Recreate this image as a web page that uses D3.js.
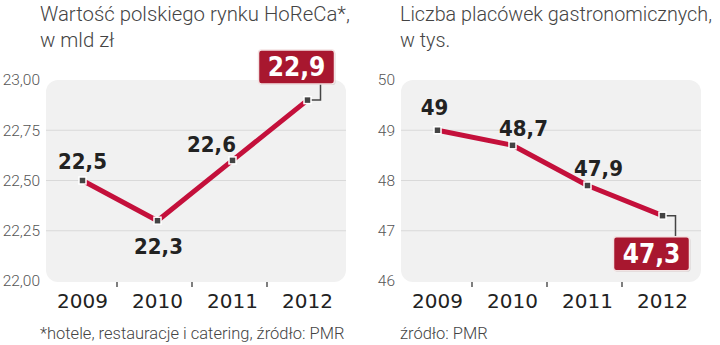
<!DOCTYPE html>
<html><head><meta charset="utf-8">
<script src="https://cdn.jsdelivr.net/npm/d3@7"></script>
<style>
html,body{margin:0;padding:0;background:#fff;}
svg{display:block;}
</style></head>
<body>
<svg id="c" width="720" height="345"></svg>
<script>
// ---- data ----
const years = ["2009", "2010", "2011", "2012"];
const horecaValues = [22.5, 22.3, 22.6, 22.9];
const outletValues = [49, 48.7, 47.9, 47.3];
const horecaTicks = [22.00, 22.25, 22.50, 22.75, 23.00];
const outletTicks = [46, 47, 48, 49, 50];
const horecaTitle = ["Wartość polskiego rynku HoReCa*,", "w mld zł"];
const outletTitle = ["Liczba placówek gastronomicznych,", "w tys."];
const horecaNote = "*hotele, restauracje i catering, źródło: PMR";
const outletNote = "źródło: PMR";

// ---- layout / style ----
const RED = "#c4103b", BOX = "#a8172f", DARK = "#222", GREY = "#555";
const svg = d3.select("#c");
const fmtComma = v => String(v).replace(".", ",");

function panel(opt) {
  const g = svg.append("g");
  const x = d3.scaleBand().domain(years).range(opt.xr);
  const y = d3.scaleLinear().domain(opt.domain).range([281, 80]);
  const cx = d => x(d) + x.bandwidth() / 2;

  // background
  g.append("rect").attr("x", opt.xr[0] + 1).attr("y", 80)
    .attr("width", opt.xr[1] - opt.xr[0]).attr("height", 202)
    .attr("rx", 12).attr("fill", "#f1f1f1");
  // gridlines
  g.selectAll(".grid").data(opt.ticks.slice(1, -1)).enter().append("line")
    .attr("x1", opt.xr[0] + 1).attr("x2", opt.xr[1] + 1)
    .attr("y1", d => y(d)).attr("y2", d => y(d))
    .attr("stroke", "#d9d9d9").attr("stroke-width", 1);
  // y labels
  g.selectAll(".yl").data(opt.ticks).enter().append("text")
    .attr("x", opt.ylx).attr("y", d => y(d)).attr("dy", "0.35em")
    .attr("text-anchor", "end").attr("font-family", "Roboto").attr("font-weight", 300)
    .attr("font-size", 15.5).attr("fill", GREY).text(opt.tfmt);
  // x axis ticks at band boundaries
  g.selectAll(".xt").data(years.slice(1)).enter().append("line")
    .attr("x1", d => x(d) - 3).attr("x2", d => x(d) - 3)
    .attr("y1", 282).attr("y2", 287).attr("stroke", GREY).attr("stroke-width", 1.5);
  g.selectAll(".xl").data(years).enter().append("text")
    .attr("x", d => cx(d)).attr("y", 308).attr("text-anchor", "middle")
    .attr("font-family", "DejaVu Sans").attr("font-size", 20).attr("fill", DARK).text(d => d);
  // title: font size chosen so the first line fits the target width
  const tl = g.selectAll(".ti").data(opt.title).enter().append("text")
    .attr("x", opt.tx).attr("y", (d, i) => 21 + i * 26)
    .attr("font-family", "Roboto").attr("font-weight", 300).attr("font-size", 22)
    .attr("fill", "#444").text(d => d);
  const w0 = tl.nodes()[0].getComputedTextLength();
  const r = Math.min(1, opt.titleW / w0);
  tl.attr("font-size", 22 * r);
  // footnote
  g.append("text").attr("x", opt.tx).attr("y", 339)
    .attr("font-family", "Roboto").attr("font-weight", 300).attr("font-size", 16.5)
    .attr("fill", "#444").text(opt.note);

  const pts = years.map((yr, i) => [cx(yr), y(opt.values[i])]);
  // line
  g.append("path").datum(opt.values)
    .attr("d", d3.line().x((d, i) => cx(years[i])).y(d => y(d)))
    .attr("fill", "none").attr("stroke", RED).attr("stroke-width", 5).attr("stroke-linejoin", "round");
  // connector for last
  const last = pts[pts.length - 1];
  const bx = last[0] - 11, bw = 76, bh = 34;
  const by = opt.boxAbove ? last[1] - 50 : last[1] + 21;
  g.append("path")
    .attr("d", `M${last[0]},${last[1]}H${last[0] + 13}V${opt.boxAbove ? by + bh : by}`)
    .attr("fill", "none").attr("stroke", "#444").attr("stroke-width", 1.5);
  // markers
  g.selectAll(".mk").data(pts).enter().append("rect")
    .attr("x", d => d[0] - 3.5).attr("y", d => d[1] - 3.5).attr("width", 7).attr("height", 7)
    .attr("fill", "#444").attr("stroke", "#fff").attr("stroke-width", 1.5);
  // labels
  opt.values.slice(0, -1).forEach((v, i) => {
    const [dx, dy] = opt.labelOffsets[i];
    g.append("text").attr("x", pts[i][0] + dx).attr("y", pts[i][1] + dy)
      .attr("text-anchor", "middle").attr("font-family", "DejaVu Sans Condensed")
      .attr("font-weight", "bold").attr("font-size", 22).attr("fill", DARK)
      .text(fmtComma(v));
  });
  // highlight box
  g.append("rect").attr("x", bx - bw / 2 + 1).attr("y", by + 1).attr("width", bw).attr("height", bh)
    .attr("rx", 3).attr("fill", "#000").attr("opacity", 0.15);
  g.append("rect").attr("x", bx - bw / 2).attr("y", by).attr("width", bw).attr("height", bh)
    .attr("rx", 3).attr("fill", BOX).attr("stroke", "#f3e3e3").attr("stroke-width", 1.5);
  g.append("text").attr("x", bx).attr("y", by + bh / 2).attr("dy", "0.36em")
    .attr("text-anchor", "middle").attr("font-family", "DejaVu Sans Condensed")
    .attr("font-weight", "bold").attr("font-size", 26).attr("fill", "#fff")
    .text(fmtComma(opt.values[opt.values.length - 1]));
}

panel({
  xr: [45, 345], domain: [22, 23], ticks: horecaTicks, values: horecaValues,
  tfmt: d => d3.format(".2f")(d).replace(".", ","), ylx: 40, tx: 40, titleW: 310,
  title: horecaTitle, note: horecaNote, boxAbove: true,
  labelOffsets: [[0, -12], [1, 33], [-21, -8]]
});
panel({
  xr: [400, 700], domain: [46, 50], ticks: outletTicks, values: outletValues,
  tfmt: d => d, ylx: 395, tx: 400, titleW: 312,
  title: outletTitle, note: outletNote, boxAbove: false,
  labelOffsets: [[-3, -15], [11, -9], [11, -10]]
});
</script>
</body></html>
